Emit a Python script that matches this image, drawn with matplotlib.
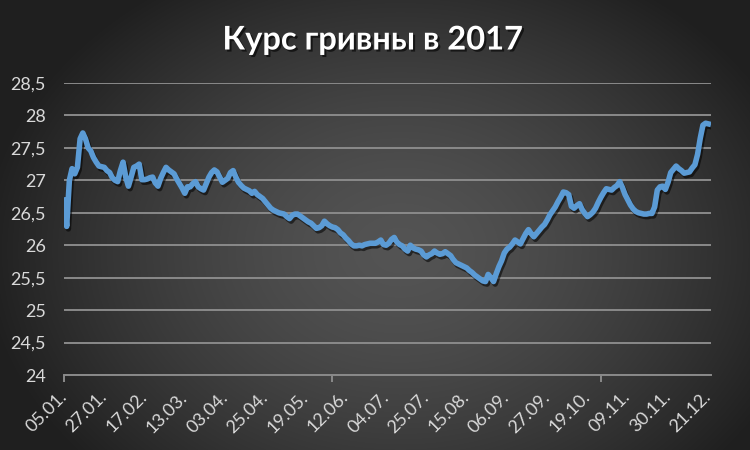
import numpy as np
import matplotlib
matplotlib.use("Agg")
import matplotlib.pyplot as plt
import matplotlib.patheffects as pe
from matplotlib.ticker import FixedLocator, FuncFormatter

title = "Курс гривны в 2017"
date_labels = ["05.01.", "27.01.", "17.02.", "13.03.", "03.04.", "25.04.", "19.05.",
               "12.06.", "04.07.", "25.07.", "15.08.", "06.09.", "27.09.", "19.10.",
               "09.11.", "30.11.", "21.12."]
label_step = 15
tick_step = 100
y_ticks = [24, 24.5, 25, 25.5, 26, 26.5, 27, 27.5, 28, 28.5]

rate_jan_mar = [26.74, 26.29, 27.00, 27.18, 27.10, 27.20, 27.64, 27.73, 27.64, 27.50,
                27.45, 27.35, 27.28, 27.22, 27.21, 27.20, 27.15, 27.12, 27.04, 27.00,
                26.98, 27.15, 27.28, 27.05, 26.91, 27.05, 27.20, 27.22, 27.25, 27.01,
                27.01, 27.02, 27.04, 27.05, 26.96, 26.91, 27.03, 27.12, 27.20, 27.16,
                27.13, 27.10, 27.02, 26.95, 26.88, 26.80, 26.90, 26.90, 26.95, 26.98]
rate_mar_may = [26.90, 26.87, 26.85, 26.95, 27.05, 27.12, 27.16, 27.13, 27.05, 26.97,
                27.00, 27.03, 27.12, 27.15, 27.05, 26.97, 26.92, 26.88, 26.86, 26.84,
                26.80, 26.83, 26.78, 26.75, 26.72, 26.67, 26.62, 26.57, 26.54, 26.52,
                26.50, 26.49, 26.48, 26.44, 26.41, 26.46, 26.48, 26.48, 26.45, 26.42,
                26.39, 26.36, 26.34, 26.30, 26.26, 26.27, 26.30, 26.37, 26.33, 26.30]
rate_may_aug = [26.28, 26.27, 26.24, 26.19, 26.16, 26.11, 26.07, 26.02, 25.99, 25.99,
                26.00, 25.99, 26.01, 26.02, 26.03, 26.03, 26.03, 26.05, 26.08, 26.01,
                26.00, 26.03, 26.09, 26.12, 26.05, 26.01, 25.99, 25.94, 25.91, 26.00,
                25.96, 25.94, 25.93, 25.91, 25.85, 25.82, 25.85, 25.87, 25.91, 25.88,
                25.86, 25.87, 25.90, 25.87, 25.84, 25.78, 25.73, 25.71, 25.69, 25.67]
rate_aug_oct = [25.65, 25.61, 25.58, 25.54, 25.51, 25.48, 25.45, 25.44, 25.55, 25.50,
                25.44, 25.56, 25.67, 25.76, 25.88, 25.94, 25.97, 26.02, 26.08, 26.05,
                26.02, 26.10, 26.18, 26.24, 26.18, 26.13, 26.18, 26.23, 26.28, 26.32,
                26.39, 26.47, 26.53, 26.59, 26.67, 26.74, 26.82, 26.81, 26.78, 26.60,
                26.57, 26.61, 26.64, 26.55, 26.49, 26.44, 26.47, 26.51, 26.57, 26.66]
rate_oct_dec = [26.74, 26.81, 26.87, 26.86, 26.85, 26.89, 26.92, 26.98, 26.89, 26.78,
                26.70, 26.62, 26.56, 26.52, 26.50, 26.49, 26.48, 26.48, 26.49, 26.49,
                26.59, 26.85, 26.90, 26.91, 26.86, 26.97, 27.12, 27.17, 27.22, 27.18,
                27.15, 27.11, 27.12, 27.13, 27.19, 27.24, 27.40, 27.65, 27.85, 27.88,
                27.87, 27.86]

rates = rate_jan_mar + rate_mar_may + rate_may_aug + rate_aug_oct + rate_oct_dec
x = np.arange(len(rates))

W, H = 750, 450
fig = plt.figure(figsize=(7.5, 4.5), dpi=100)

# radial gradient background
bg = fig.add_axes([0, 0, 1, 1], zorder=0)
yy, xx = np.mgrid[0:H, 0:W]
d = np.sqrt(((xx - 400) / 420.0) ** 2 + ((yy - 250) / 320.0) ** 2)
c_center, c_edge = 0x54 / 255, 0x1f / 255
val = c_center - (c_center - c_edge) * np.clip(d, 0, 1) ** 1.5
img = np.dstack([val, val, val])
bg.imshow(img, extent=[0, W, H, 0], aspect='auto', interpolation='bilinear')
bg.set_axis_off()

ax = fig.add_axes([64 / W, 1 - 375 / H, (711 - 64) / W, (375 - 83) / H], zorder=1)
ax.patch.set_alpha(0)

ax.plot(x, rates, color='#5B9BD5', lw=4.0, solid_joinstyle='round', solid_capstyle='butt',
        path_effects=[pe.SimpleLineShadow(offset=(1.2, -1.8), shadow_color='black', alpha=0.55),
                      pe.Normal()], zorder=3)

ax.set_xlim(0, len(rates) - 1)
ax.set_ylim(24, 28.5)
ax.set_yticks(y_ticks)
ax.yaxis.set_major_formatter(FuncFormatter(lambda v, p: (f"{v:g}").replace('.', ',')))
ax.grid(axis='y', color='#8a8a8a', lw=1.4, zorder=1)
ax.set_axisbelow(True)

for s in ['left', 'right', 'top']:
    ax.spines[s].set_visible(False)
ax.spines['bottom'].set_color('#8a8a8a')
ax.spines['bottom'].set_linewidth(1.4)

font = 'Lato'
ax.tick_params(axis='y', length=0, pad=13, labelcolor='#d9d9d9', labelsize=13)
for t in ax.get_yticklabels():
    t.set_fontfamily(font)

ax.xaxis.remove_overlapping_locs = False
major = list(range(0, len(rates), tick_step))
minor = [i * label_step for i in range(len(date_labels))]
ax.xaxis.set_major_locator(FixedLocator(major))
ax.xaxis.set_major_formatter(FuncFormatter(lambda v, p: ""))
ax.xaxis.set_minor_locator(FixedLocator(minor))
ax.set_xticklabels(date_labels, minor=True)
ax.tick_params(axis='x', which='major', length=5, width=1.4, color='#8a8a8a', direction='out')
ax.tick_params(axis='x', which='minor', length=0, pad=14, labelcolor='#d9d9d9', labelsize=13)
for t in ax.get_xticklabels(minor=True):
    t.set_rotation(45)
    t.set_rotation_mode('anchor')
    t.set_ha('right')
    t.set_va('center')
    t.set_fontfamily(font)

fig.text(0.497, 1 - 40 / H, title, ha='center', va='center', color='white',
         fontsize=23.5, fontweight='bold', family=font,
         path_effects=[pe.SimplePatchShadow(offset=(1.5, -1.5), shadow_rgbFace='black', alpha=0.6),
                       pe.Normal()])

fig.savefig('out.png', dpi=100)
